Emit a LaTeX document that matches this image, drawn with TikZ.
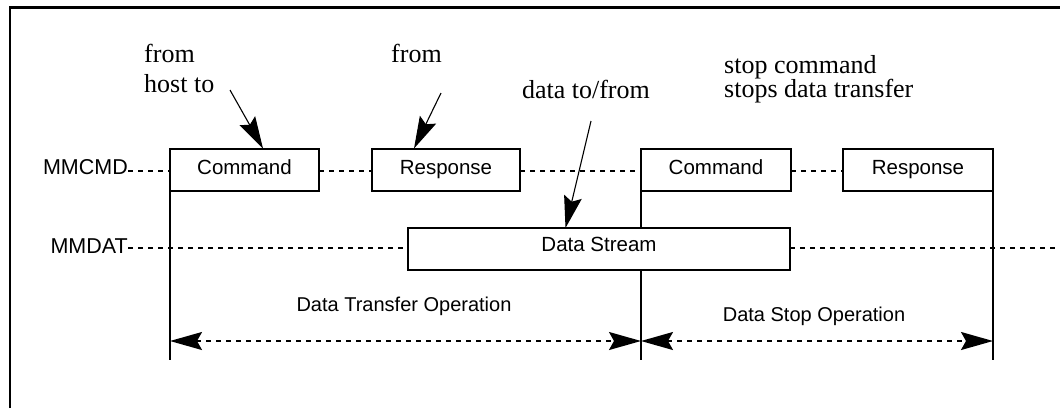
\documentclass[tikz,border=0pt]{standalone}
\usepackage{fontspec}
\setmainfont{Liberation Serif}
\setsansfont{Liberation Sans}
\usetikzlibrary{arrows.meta}
\begin{document}
\begin{tikzpicture}[x=1pt,y=-1pt,
  box/.style={draw,line width=2pt,minimum width=#1,minimum height=42pt,inner sep=0pt,outer sep=0pt,
    font=\sffamily\fontsize{20.5}{24}\selectfont,text height=15pt,text depth=5pt},
  sig/.style={inner sep=0pt,font=\sffamily\fontsize{21.5}{24}\selectfont},
  lab/.style={inner sep=0pt,font=\sffamily\fontsize{20}{24}\selectfont},
  note/.style={inner sep=0pt,font=\fontsize{26}{30}\selectfont},
  sigline/.style={line width=1.7pt,dash pattern=on 5pt off 5pt},
  vline/.style={line width=2pt},
  dim/.style={line width=1.7pt,dash pattern=on 5pt off 5pt,
    {Stealth[length=32pt,width=18pt,inset=5pt]}-{Stealth[length=32pt,width=18pt,inset=5pt]}},
  pointer/.style={line width=1.1pt,-{Stealth[length=32pt,width=18pt,inset=5pt]}}
]
\useasboundingbox (0,0) rectangle (1060,408);
% frame
\draw[line width=2.2pt] (10,408) -- (10,7.5) -- (1060,7.5);

% boxes
\node[box=149pt] (c1) at (244.5,169.5) {Command};
\node[box=148pt] (r1) at (446,169.5) {Response};
\node[box=150pt] (c2) at (716,169.5) {Command};
\node[box=150pt] (r2) at (918,169.5) {Response};
\node[box=382pt,text depth=10.4pt] (ds) at (599,249) {Data Stream};

% signal names
\node[sig,anchor=base east] (mmcmd) at (128,174) {MMCMD};
\node[sig,anchor=base east] (mmdat) at (128,253) {MMDAT};

% MMCMD dashed segments
\draw[sigline] (mmcmd.east |- 0,171) -- (c1.west |- 0,171);
\draw[sigline] (c1.east |- 0,171) -- (r1.west |- 0,171);
\draw[sigline] (r1.east |- 0,171) -- (c2.west |- 0,171);
\draw[sigline] (c2.east |- 0,171) -- (r2.west |- 0,171);

% MMDAT dashed segments
\coordinate (datend) at (1060,248);
\draw[sigline] (mmdat.east |- 0,248) -- (ds.west |- 0,248);
\draw[sigline] (ds.east |- 0,248) -- (datend);

% vertical markers
\coordinate (b1) at (c1.south west |- 0,360);
\coordinate (b2) at (c2.south west |- 0,360);
\coordinate (b3) at (r2.south east |- 0,360);
\draw[vline] (c1.south west) -- (b1);
\draw[vline] (c2.south west) -- (c2.south west |- ds.north);
\draw[vline] (c2.south west |- ds.south) -- (b2);
\draw[vline] (r2.south east) -- (b3);

% operation arrows
\coordinate (d1) at (b1 |- 0,341);
\coordinate (d2) at (b2 |- 0,341);
\coordinate (d3) at (b3 |- 0,341);
\draw[dim] (d1) -- (d2);
\draw[dim] (d2) -- (d3);
\node[lab,anchor=base] (dto) at (404,311.5) {Data Transfer Operation};
\node[lab,anchor=base] (dso) at (814,321) {Data Stop Operation};

% annotations
\node[note,anchor=base west] (n1a) at (144,62.5) {from};
\node[note,anchor=base west] (n1b) at (144,92.5) {host to};
\node[note,anchor=base west] (n2) at (391,62.5) {from};
\node[note,anchor=base east] (n3) at (650,98) {data to/from};
\node[note,anchor=base west] (n4a) at (724,73.5) {stop command};
\node[note,anchor=base west] (n4b) at (724,97) {stops data transfer};

\coordinate (p1s) at (230,90);
\coordinate (p1e) at (263,148.5);
\coordinate (p2s) at (441,93);
\coordinate (p2e) at (414,148.5);
\coordinate (p3s) at (591,121);
\coordinate (p3e) at (565.5,228);
\draw[pointer] (p1s) -- (p1e);
\draw[pointer] (p2s) -- (p2e);
\draw[pointer] (p3s) -- (p3e);
\end{tikzpicture}
\end{document}
